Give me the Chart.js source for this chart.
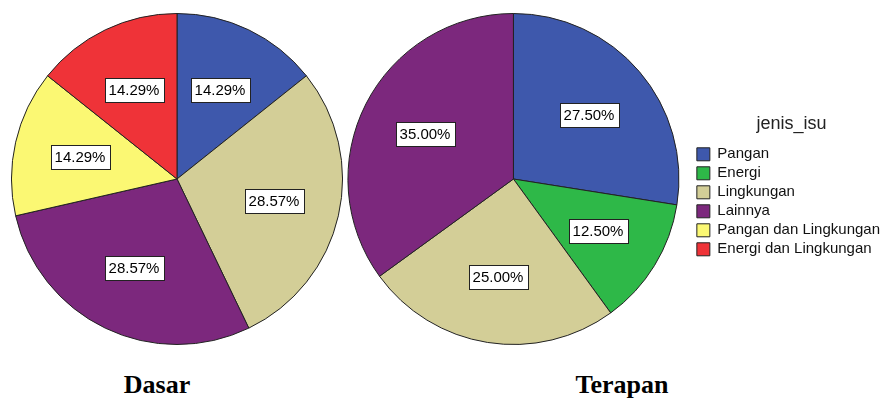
<!DOCTYPE html>
<html>
<head>
<meta charset="utf-8">
<script src="https://cdn.jsdelivr.net/npm/chart.js@4.4.1/dist/chart.umd.min.js"></script>
<style>
    html, body { margin: 0; padding: 0; background: #fff; overflow: hidden; }
    #wrap { position: relative; width: 883px; height: 399px; }
    canvas { position: absolute; }
    .caption {
        position: absolute;
        top: 372px;
        width: 200px;
        text-align: center;
        font: bold 26px "Liberation Serif", "Times New Roman", serif;
        line-height: 26px;
        color: #000;
    }
</style>
</head>
<body>
<div id="wrap">
    <canvas id="dasarChart" width="332" height="332" style="left:11px;top:13px"></canvas>
    <canvas id="terapanChart" width="556" height="332" style="left:334px;top:13px"></canvas>
    <div class="caption" style="left:57px">Dasar</div>
    <div class="caption" style="left:522px">Terapan</div>
</div>
<script>
// jenis_isu categories
const categories = ['Pangan', 'Energi', 'Lingkungan', 'Lainnya', 'Pangan dan Lingkungan', 'Energi dan Lingkungan'];
// counts per category (read from the percentages)
const dasarValues = [1, 0, 2, 2, 1, 1];
const terapanValues = [11, 5, 10, 14, 0, 0];
const sliceColors = ['#3e58ac', '#2eb848', '#d3ce97', '#7c287d', '#fbf873', '#ef3338'];

const labelFont = '15px "Liberation Sans", Arial, sans-serif';

// draws the white percentage boxes inside each slice
const percentLabels = {
    id: 'percentLabels',
    afterDatasetsDraw(chart) {
        const ctx = chart.ctx;
        const data = chart.data.datasets[0].data;
        const total = data.reduce((a, b) => a + b, 0);
        const arcs = chart.getDatasetMeta(0).data;
        ctx.save();
        ctx.font = labelFont;
        ctx.textAlign = 'center';
        ctx.textBaseline = 'middle';
        arcs.forEach((arc, i) => {
            if (!data[i]) return;
            const p = arc.getProps(['x', 'y', 'startAngle', 'endAngle', 'outerRadius'], true);
            const mid = (p.startAngle + p.endAngle) / 2;
            const r = p.outerRadius * 0.6;
            const cx = Math.round(p.x + Math.cos(mid) * r);
            const cy = Math.round(p.y + Math.sin(mid) * r);
            const text = (data[i] / total * 100).toFixed(2) + '%';
            const w = Math.ceil(ctx.measureText(text).width) + 8;
            const h = 24;
            const bx = Math.round(cx - w / 2) + 0.5;
            const by = Math.round(cy - h / 2) + 0.5;
            ctx.fillStyle = '#fff';
            ctx.fillRect(bx, by, w, h);
            ctx.strokeStyle = '#222';
            ctx.lineWidth = 1;
            ctx.strokeRect(bx, by, w, h);
            ctx.fillStyle = '#000';
            ctx.fillText(text, cx, cy + 1);
        });
        ctx.restore();
    }
};

function createPie(elementId, values, showLegend) {
    const ctx = document.getElementById(elementId);
    return new Chart(ctx, {
        type: 'pie',
        data: {
            labels: categories,
            datasets: [{
                data: values,
                backgroundColor: sliceColors,
                borderColor: '#222',
                borderWidth: 1
            }]
        },
        options: {
            responsive: false,
            animation: false,
            layout: { padding: 0 },
            plugins: {
                tooltip: { enabled: false },
                legend: {
                    display: showLegend,
                    position: 'right',
                    align: 'center',
                    title: {
                        display: true,
                        text: 'jenis_isu',
                        color: '#222',
                        font: { family: '"Liberation Sans", Arial, sans-serif', size: 18 },
                        padding: { top: 18, bottom: 6 }
                    },
                    labels: {
                        color: '#111',
                        boxWidth: 13,
                        boxHeight: 13,
                        padding: 4,
                        font: { family: '"Liberation Sans", Arial, sans-serif', size: 15 }
                    }
                }
            }
        },
        plugins: [percentLabels]
    });
}

window.onload = () => {
    createPie('dasarChart', dasarValues, false);
    createPie('terapanChart', terapanValues, true);
};
</script>
</body>
</html>
